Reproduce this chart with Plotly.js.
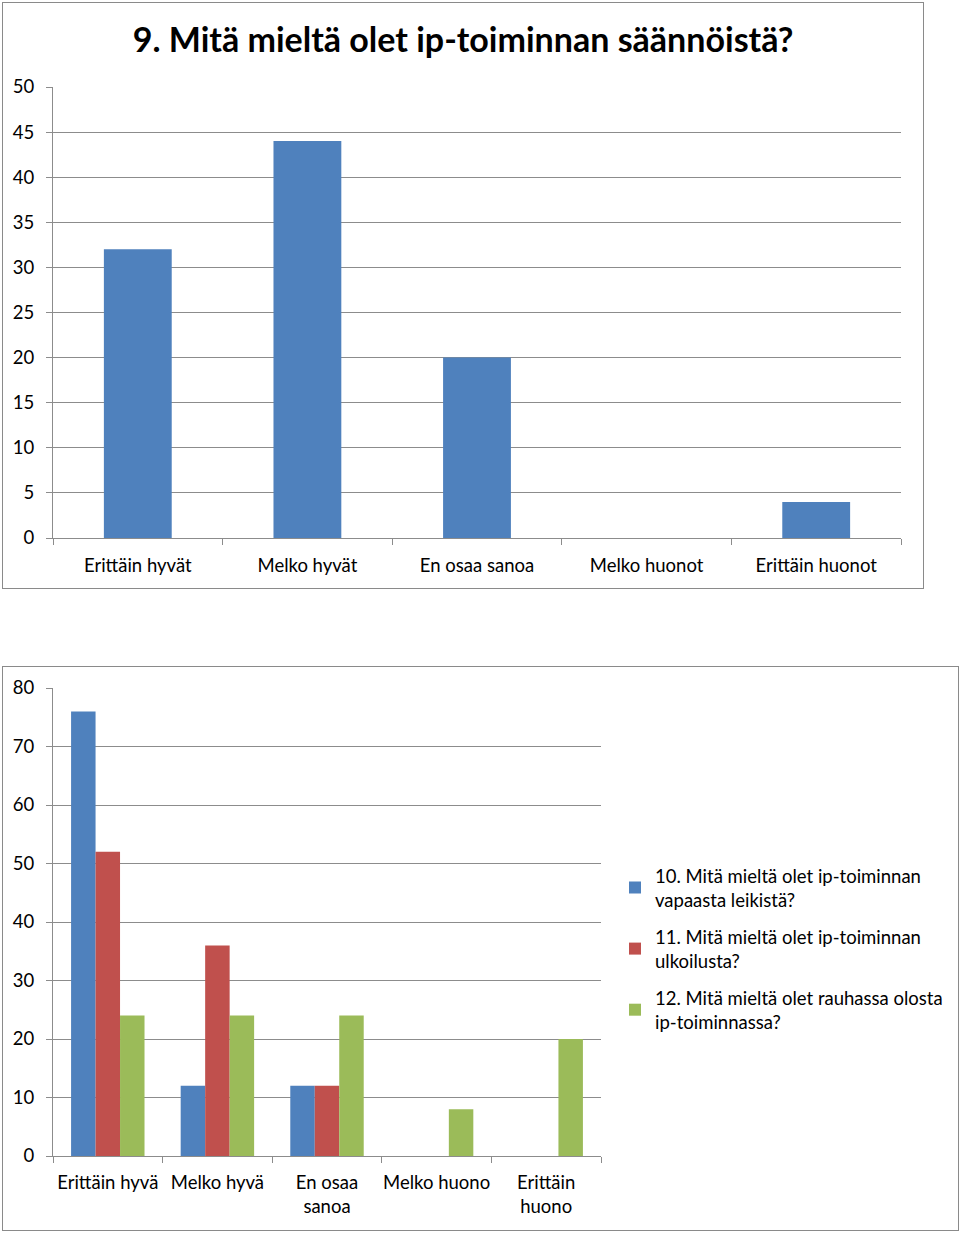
<!DOCTYPE html>
<html>
<head>
<meta charset="utf-8">
<script src="https://cdn.plot.ly/plotly-3.0.1.min.js"></script>
<style>
  html, body { margin: 0; padding: 0; background: #fff; }
  #c1 { position: absolute; left: 2px; top: 2px; width: 920px; height: 585px; border: 1px solid #8a8a8a; }
  #c2 { position: absolute; left: 2px; top: 666px; width: 955px; height: 563px; border: 1px solid #8a8a8a; }
</style>
</head>
<body>
<div id="c1"></div>
<div id="c2"></div>
<script>
// Chart 1 data
const title1 = "9. Mitä mieltä olet ip-toiminnan säännöistä?";
const cats1 = ["Erittäin hyvät", "Melko hyvät", "En osaa sanoa", "Melko huonot", "Erittäin huonot"];
const vals1 = [32, 44, 20, 0, 4];

// Chart 2 data
const cats2 = ["Erittäin hyvä", "Melko hyvä", "En osaa<br>sanoa", "Melko huono", "Erittäin<br>huono"];
const names2 = [
  "10. Mitä mieltä olet ip-toiminnan<br>vapaasta leikistä?",
  "11. Mitä mieltä olet ip-toiminnan<br>ulkoilusta?",
  "12. Mitä mieltä olet rauhassa olosta<br>ip-toiminnassa?"
];
const vapaaLeikki = [76, 12, 12, 0, 0];
const ulkoilu = [52, 36, 12, 0, 0];
const rauhassaOlo = [24, 24, 24, 8, 20];

const colors = ["#4F81BD", "#C0504D", "#9BBB59"];
const FONT = "Lato, 'Open Sans', sans-serif";
const GRID = "#8c8c8c";
const FS = 18.5;

const axisY = (range, dtick) => ({
  range: range, dtick: dtick, tick0: 0,
  showgrid: true, gridcolor: GRID, gridwidth: 1,
  showline: true, linecolor: GRID, linewidth: 1,
  ticks: "outside", ticklen: 6, tickcolor: GRID,
  ticklabelstandoff: 8,
  zeroline: false, fixedrange: true,
  tickfont: { family: FONT, size: FS, color: "#000" }
});
const axisX = (standoff) => ({
  type: "category",
  showline: true, linecolor: GRID, linewidth: 1,
  ticks: "outside", ticklen: 6, tickcolor: GRID, tickson: "boundaries",
  ticklabelstandoff: standoff, tickangle: 0,
  showgrid: false, fixedrange: true,
  tickfont: { family: FONT, size: FS, color: "#000" }
});

Plotly.newPlot("c1", [{
  type: "bar", x: cats1, y: vals1, marker: { color: colors[0] },
  hoverinfo: "skip", showlegend: false
}], {
  width: 920, height: 585,
  margin: { l: 50, r: 22, t: 84, b: 50 },
  paper_bgcolor: "#fff", plot_bgcolor: "#fff",
  bargap: 0.6,
  title: {
    text: "<b>" + title1 + "</b>",
    font: { family: FONT, size: 34, color: "#000" },
    x: 0.5, xanchor: "center", xref: "container",
    y: 1 - 37 / 585, yanchor: "middle", yref: "container"
  },
  xaxis: axisX(11),
  yaxis: axisY([0, 50], 5)
}, { displayModeBar: false, staticPlot: true });

const series2 = [vapaaLeikki, ulkoilu, rauhassaOlo];
Plotly.newPlot("c2", series2.map((v, i) => ({
  type: "bar", x: cats2, y: v, name: names2[i],
  marker: { color: colors[i] }, legendgroup: "g" + i, hoverinfo: "skip"
})), {
  width: 955, height: 563,
  margin: { l: 50, r: 357, t: 21, b: 74 },
  paper_bgcolor: "#fff", plot_bgcolor: "#fff",
  barmode: "group", bargap: 0.33, bargroupgap: 0,
  showlegend: true,
  legend: {
    xref: "container", x: 612 / 955, xanchor: "left",
    y: 0.639, yanchor: "top",
    font: { family: FONT, size: FS, color: "#000" },
    tracegroupgap: 10, traceorder: "grouped",
    itemwidth: 30, bgcolor: "rgba(0,0,0,0)"
  },
  xaxis: axisX(10),
  yaxis: axisY([0, 80], 10)
}, { displayModeBar: false, staticPlot: true });
</script>
</body>
</html>
